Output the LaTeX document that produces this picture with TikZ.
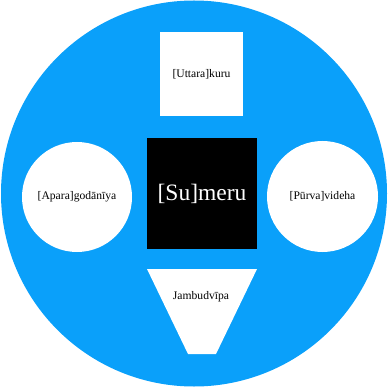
\documentclass[tikz,border=0pt]{standalone}
\usepackage{fontspec}
\setmainfont{Liberation Serif}
\definecolor{skyblue}{RGB}{10,160,250}
\tikzset{
  land/.style={fill=white, draw=none, inner sep=0pt, outer sep=0pt, font=\fontsize{11.6}{13}\selectfont, text=black},
  squareland/.style={land, rectangle},
  roundland/.style={land, circle},
  mountain/.style={fill=black, draw=none, rectangle, inner sep=0pt, outer sep=0pt, text=white, font=\fontsize{23.5}{26}\selectfont}
}
\begin{document}
\begin{tikzpicture}[x=1pt,y=-1pt]
\useasboundingbox (0,0) rectangle (387,387);
\fill[skyblue] (194,193.5) circle[radius=193];
\node[squareland, minimum width=83pt, minimum height=84pt] (uttara) at (201.5,74) {[Uttara]kuru};
\node[mountain, minimum width=110pt, minimum height=111pt] (sumeru) at (202,193.5) {[Su]meru};
\node[roundland, minimum size=110pt] (apara) at (77,197) {[Apara]godānīya};
\node[roundland, minimum size=111pt] (purva) at (322.5,196.5) {[Pūrva]videha};
\coordinate (tl) at (147,269);
\coordinate (tr) at (257,269);
\coordinate (br) at (216,354);
\coordinate (bl) at (188,354);
\fill[white] (tl) -- (tr) -- (br) -- (bl) -- cycle;
\node[land, fill=none] (jambu) at (201,297) {Jambudvīpa};
\end{tikzpicture}
\end{document}
